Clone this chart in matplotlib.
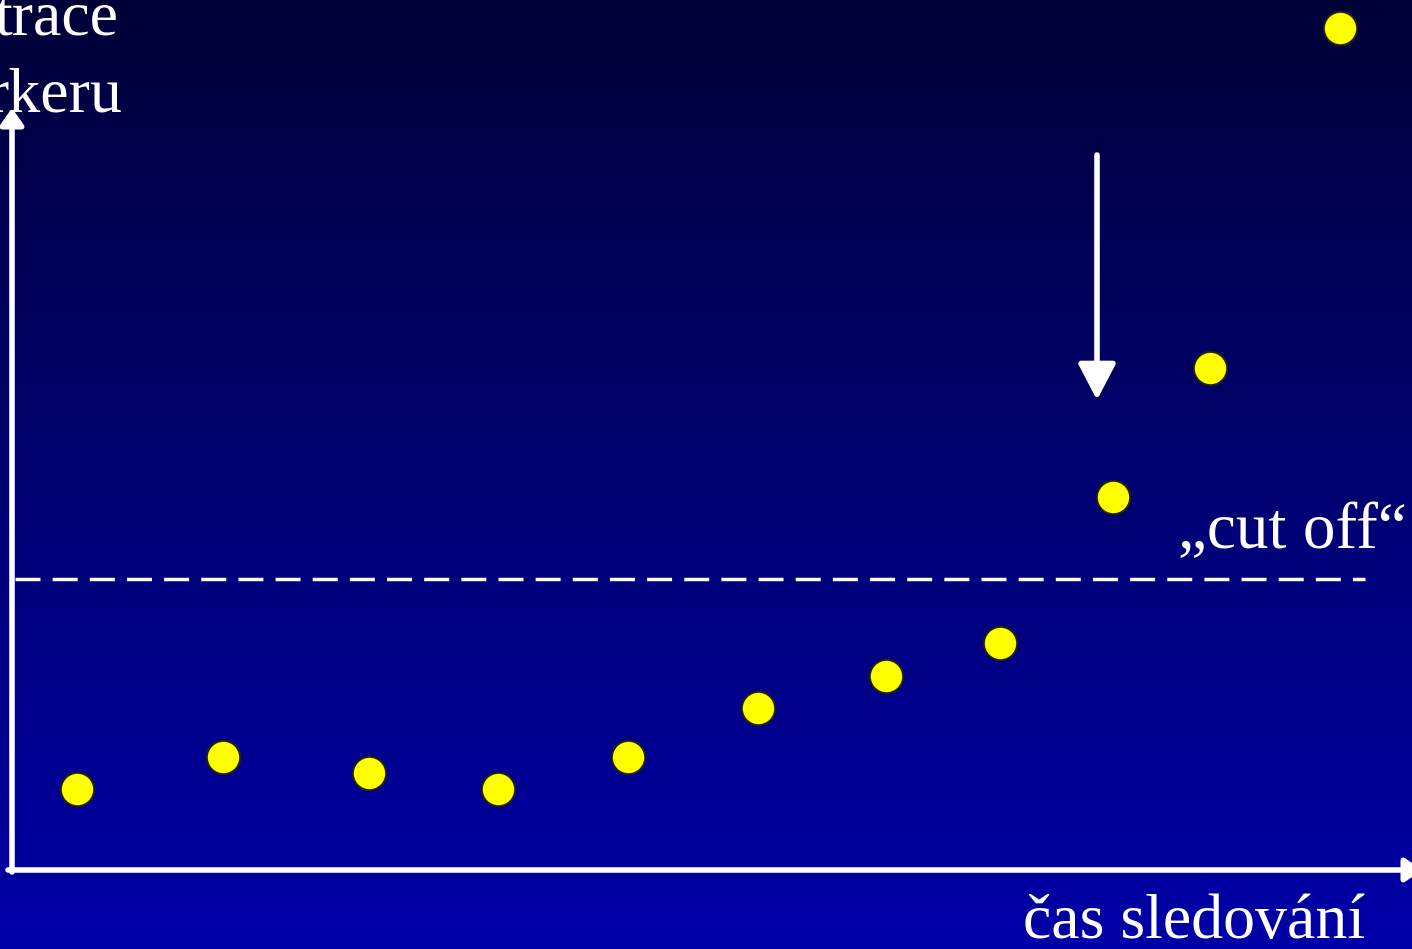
import numpy as np
import matplotlib.pyplot as plt
from matplotlib.colors import LinearSegmentedColormap

# sledovani markeru v case
cas = [0.65, 2.11, 3.57, 4.86, 6.16, 7.46, 8.74, 9.88, 11.01, 11.98, 13.28]
koncentrace = [0.81, 1.13, 0.97, 0.81, 1.13, 1.62, 1.94, 2.27, 3.73, 5.02, 8.42]
cut_off = 2.91
cut_off_label = "\u201ecut off\u201c"
xlabel = "čas sledování"
ylabel_lines = ["trace", "rkeru"]

fig = plt.figure(figsize=(14.12, 9.49), dpi=100)
ax = fig.add_axes([0, 0, 1, 1])
x0, x1 = -0.12, 14.00
y0, y1 = -0.79, 8.70
ax.set_xlim(x0, x1)
ax.set_ylim(y0, y1)
ax.axis("off")

# background gradient (dark on top, lighter blue at bottom)
cmap = LinearSegmentedColormap.from_list("bg", ["#000038", "#0000A8"])
grad = np.linspace(0, 1, 256).reshape(-1, 1)
ax.imshow(grad, cmap=cmap, extent=[x0, x1, y0, y1], aspect="auto",
          origin="upper", zorder=0)

serif = ["Liberation Serif", "DejaVu Serif"]

# axes arrows
ax.annotate("", xy=(x1 + 0.1, 0), xytext=(-0.04, 0), annotation_clip=False,
            arrowprops=dict(arrowstyle="-|>,head_length=1.0,head_width=0.7",
                            color="white", lw=4, shrinkA=0, shrinkB=0), zorder=3)
ax.annotate("", xy=(0, 7.62), xytext=(0, -0.02), annotation_clip=False,
            arrowprops=dict(arrowstyle="-|>,head_length=1.0,head_width=0.7",
                            color="white", lw=4, shrinkA=0, shrinkB=0), zorder=3)

# cut off line
ax.plot([0.03, 13.53], [cut_off, cut_off], color="white", lw=2.5,
        dashes=(7.2, 3.5), zorder=2)
ax.text(13.95, cut_off + 0.31, cut_off_label, color="white", fontsize=47,
        family=serif, ha="right", va="baseline", zorder=4)

# arrow pointing at the first value over cut off
ax.annotate("", xy=(10.85, 4.70), xytext=(10.85, 7.15),
            arrowprops=dict(arrowstyle="-|>,head_length=2.2,head_width=1.15",
                            color="white", lw=4, shrinkA=0, shrinkB=0), zorder=3)

ax.scatter(cas, koncentrace, s=580, color="#FFFF00", edgecolors="#202010",
           linewidths=1.5, zorder=5)

# labels
ax.text(13.53, -0.68, xlabel, color="white", fontsize=46, family=serif,
        ha="right", va="baseline", zorder=4)
ax.text(1.06, 8.35, ylabel_lines[0], color="white", fontsize=46, family=serif,
        ha="right", va="baseline", zorder=4)
ax.text(1.11, 7.58, ylabel_lines[1], color="white", fontsize=46, family=serif,
        ha="right", va="baseline", zorder=4)

fig.savefig("out.png", dpi=100)
